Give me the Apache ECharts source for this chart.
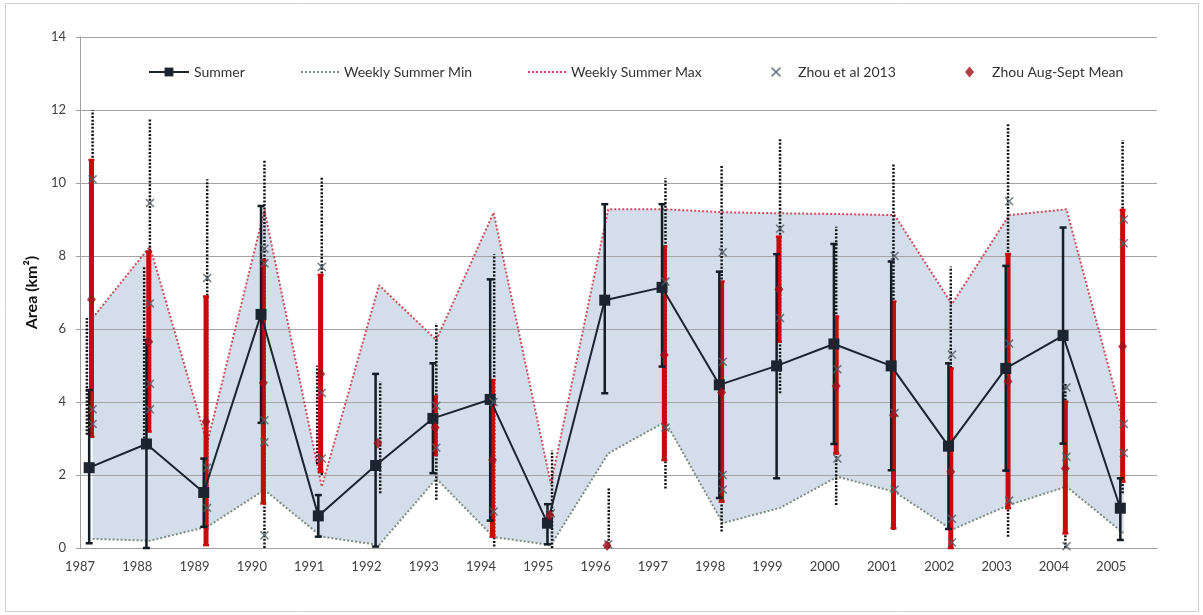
<!DOCTYPE html>
<html><head><meta charset="utf-8">
<script src="https://cdn.jsdelivr.net/npm/echarts@6/dist/echarts.min.js"></script>
<style>html,body{margin:0;padding:0;background:#fff}#c{width:1203px;height:615px}</style>
</head><body><div id="c"></div>
<script>
// ---- data ----
const years = [1987,1988,1989,1990,1991,1992,1993,1994,1995,1996,1997,1998,1999,2000,2001,2002,2003,2004,2005];
const summer     = [2.20,2.85,1.52,6.40,0.88,2.26,3.55,4.07,0.68,6.79,7.14,4.47,4.99,5.59,4.99,2.79,4.92,5.82,1.09];
const summerLow  = [0.13,0.00,0.58,3.43,0.31,0.04,2.05,0.75,0.10,4.24,4.97,1.37,1.91,2.85,2.13,0.52,2.12,2.86,0.22];
const summerHigh = [4.33,5.70,2.45,9.37,1.45,4.77,5.06,7.36,1.20,9.42,9.42,7.57,8.05,8.33,7.85,5.06,7.73,8.78,1.91];
const weeklyMin  = [0.25,0.20,0.58,1.59,0.31,0.08,1.90,0.30,0.08,2.59,3.46,0.68,1.10,1.95,1.54,0.50,1.18,1.68,0.40];
const weeklyMax  = [6.30,8.26,2.87,9.26,1.68,7.20,5.70,9.19,1.75,9.28,9.28,9.20,9.17,9.15,9.12,6.68,9.12,9.28,3.40];
const zhouMean   = [6.81,5.65,3.46,4.53,4.77,2.87,3.30,2.41,0.90,0.07,5.29,4.26,7.09,4.44,3.64,2.09,4.56,2.18,5.52];
const zhouLow    = [3.05,3.19,0.08,1.22,2.09,null,2.55,0.31,null,null,2.41,1.27,5.65,2.59,0.54,0.00,1.09,0.40,1.82];
const zhouHigh   = [10.63,8.12,6.89,7.89,7.48,null,4.15,4.60,null,null,8.26,7.30,8.53,6.34,6.75,4.92,8.05,4.01,9.26];
// Zhou et al 2013 individual estimates
const zhou2013Year  = [1987,1987,1987,1988,1988,1988,1988,1989,1989,1989,1990,1990,1990,1990,1990,1991,1991,1991,1993,1993,1994,1994,1995,1996,1997,1997,1998,1998,1998,1998,1999,1999,2000,2000,2001,2001,2001,2002,2002,2002,2003,2003,2003,2004,2004,2004,2005,2005,2005,2005];
const zhou2013Value = [10.1,3.8,3.4,9.45,6.7,4.5,3.8,7.4,2.2,1.1,8.2,7.8,3.5,2.9,0.35,7.7,4.25,2.45,2.75,3.9,4.0,1.0,0.95,0.1,7.3,3.3,8.1,5.1,2.0,1.6,8.75,6.3,4.9,2.45,8.0,3.7,1.6,5.3,0.8,0.15,9.5,5.6,1.3,4.4,2.5,0.05,9.0,8.35,3.4,2.6];
// Zhou et al 2013 ranges (dotted bars)
const zhouRangeYear = [1987,1987,1988,1988,1989,1990,1991,1991,1992,1993,1994,1995,1996,1997,1998,1999,2000,2001,2002,2003,2004,2005];
const zhouRangeLow  = [3.1,3.1,3.3,3.0,0.5,0.0,2.0,2.3,1.5,1.32,0.04,0.0,0.0,1.63,0.45,4.24,1.18,0.49,0.0,0.31,0.0,1.5];
const zhouRangeHigh = [12.0,6.3,11.75,7.7,10.1,10.63,10.15,5.0,4.56,6.16,8.05,2.68,1.63,10.13,10.49,11.22,8.8,10.54,7.71,11.63,4.5,11.18];
const zhouRangeShift = [0.22,0.12,0.22,0.12,0.22,0.22,0.22,0.14,0.24,0.22,0.23,0.24,0.23,0.22,0.2,0.22,0.2,0.2,0.2,0.2,0.2,0.2];

// time within year for each record
const T_SUMMER = 0.16, T_WEEKLY = 0.22, T_ZHOU = 0.2, T_Z13 = 0.22;

const FONT = 'Lato, "Open Sans", sans-serif';
const XMARK = 'path://M0,1.2 L1.2,0 L5,3.8 L8.8,0 L10,1.2 L6.2,5 L10,8.8 L8.8,10 L5,6.2 L1.2,10 L0,8.8 L3.8,5 Z';

function errorBars(data, color, width, dash, capW, z) {
  return {
    type: 'custom', z: z, silent: true, data: data,
    encode: { x: 0, y: [1, 2] },
    renderItem: function (params, api) {
      const x = api.value(0), lo = api.value(1), hi = api.value(2);
      if (isNaN(lo) || isNaN(hi)) return;
      const p1 = api.coord([x, lo]), p2 = api.coord([x, hi]);
      const ch = [{ type: 'line', shape: { x1: p1[0], y1: p1[1], x2: p2[0], y2: p2[1] },
        style: { stroke: color, lineWidth: width, lineDash: dash || null } }];
      if (capW) {
        ch.push({ type: 'line', shape: { x1: p1[0] - capW / 2, y1: p1[1], x2: p1[0] + capW / 2, y2: p1[1] }, style: { stroke: color, lineWidth: 2.5 } });
        ch.push({ type: 'line', shape: { x1: p2[0] - capW / 2, y1: p2[1], x2: p2[0] + capW / 2, y2: p2[1] }, style: { stroke: color, lineWidth: 2.5 } });
      }
      return { type: 'group', children: ch };
    }
  };
}

const chart = echarts.init(document.getElementById('c'), null, { renderer: 'canvas' });
const legendBase = { orient: 'horizontal', top: 65, padding: 0, itemHeight: 11, textStyle: { fontFamily: FONT, fontSize: 14, color: '#333' }, selectedMode: false };

chart.setOption({
  animation: false,
  backgroundColor: '#fff',
  graphic: [{ type: 'rect', shape: { x: 5.5, y: 3.5, width: 1193, height: 608 }, style: { fill: null, stroke: '#d0d0d0', lineWidth: 1 }, z: -10 }],
  grid: { left: 80, right: 46, top: 37, bottom: 67 },
  legend: [
    Object.assign({}, legendBase, { data: ['Summer'], left: 148, itemWidth: 40 }),
    Object.assign({}, legendBase, { data: ['Weekly Summer Min'], left: 300, itemWidth: 38, itemStyle: { opacity: 0 } }),
    Object.assign({}, legendBase, { data: ['Weekly Summer Max'], left: 527, itemWidth: 38, itemStyle: { opacity: 0 } }),
    Object.assign({}, legendBase, { data: [{ name: 'Zhou et al 2013', icon: XMARK }], left: 771, itemWidth: 10, itemHeight: 10,
      textStyle: { fontFamily: FONT, fontSize: 14, color: '#333', padding: [0, 0, 0, 12] } }),
    Object.assign({}, legendBase, { data: ['Zhou Aug-Sept Mean'], left: 965, itemWidth: 9, itemHeight: 11,
      textStyle: { fontFamily: FONT, fontSize: 14, color: '#333', padding: [0, 0, 0, 13] } })
  ],
  xAxis: {
    type: 'value', min: 1987, max: 2005.8, interval: 1, z: 1,
    axisLine: { show: true, onZero: false, lineStyle: { color: '#a0a0a0', width: 1 } },
    axisTick: { show: false },
    splitLine: { show: false },
    axisLabel: { margin: 12, fontFamily: FONT, fontSize: 13, color: '#404040', showMaxLabel: false,
      formatter: v => (Number.isInteger(v) ? String(v) : '') }
  },
  yAxis: {
    type: 'value', min: 0, max: 14, interval: 2, z: 1,
    name: 'Area (km²)', nameLocation: 'middle', nameGap: 33, nameRotate: 90,
    nameTextStyle: { fontFamily: FONT, fontSize: 16, fontWeight: 'bold', color: '#111' },
    axisLine: { show: true, lineStyle: { color: '#a0a0a0', width: 1 } },
    axisTick: { show: true, length: 4, lineStyle: { color: '#a0a0a0' } },
    splitLine: { show: true, lineStyle: { color: '#a3a3a3', width: 1.2 } },
    axisLabel: { margin: 14, fontFamily: FONT, fontSize: 13, color: '#404040' }
  },
  series: [
    { // range fill between weekly min and max
      type: 'custom', z: 0, silent: true,
      data: years.map((y, i) => [y + T_WEEKLY, weeklyMin[i], weeklyMax[i]]),
      encode: { x: 0, y: [1, 2] },
      renderItem: function (params, api) {
        if (params.dataIndex !== 0) return;
        const pts = [];
        for (let i = 0; i < years.length; i++) pts.push(api.coord([years[i] + T_WEEKLY, weeklyMax[i]]));
        for (let i = years.length - 1; i >= 0; i--) pts.push(api.coord([years[i] + T_WEEKLY, weeklyMin[i]]));
        return { type: 'polygon', shape: { points: pts }, style: { fill: '#d4deea' } };
      }
    },
    { name: 'Weekly Summer Min', type: 'line', z: 3, symbol: 'none',
      data: years.map((y, i) => [y + T_WEEKLY, weeklyMin[i]]),
      lineStyle: { color: '#7d8c80', width: 2, type: [2, 2] }, itemStyle: { color: '#7d8c80' } },
    { name: 'Weekly Summer Max', type: 'line', z: 3, symbol: 'none',
      data: years.map((y, i) => [y + T_WEEKLY, weeklyMax[i]]),
      lineStyle: { color: '#cc4f5c', width: 2, type: [2, 2] }, itemStyle: { color: '#cc4f5c' } },
    errorBars(zhouRangeYear.map((y, i) => [y + zhouRangeShift[i], zhouRangeLow[i], zhouRangeHigh[i]]), '#111', 2.5, [2, 1.6], 0, 4),
    errorBars(years.map((y, i) => [y + T_ZHOU, zhouLow[i] == null ? NaN : zhouLow[i], zhouHigh[i] == null ? NaN : zhouHigh[i]]), '#c80a0a', 5, null, 6, 5),
    errorBars(years.map((y, i) => [y + T_SUMMER, summerLow[i], summerHigh[i]]), '#141c26', 2.5, null, 7, 6),
    { name: 'Summer', type: 'line', z: 7,
      data: years.map((y, i) => [y + T_SUMMER, summer[i]]),
      symbol: 'rect', symbolSize: 11,
      lineStyle: { color: '#1c2430', width: 2 }, itemStyle: { color: '#1c2430' } },
    { name: 'Zhou et al 2013', type: 'scatter', z: 8,
      data: zhou2013Year.map((y, i) => [y + T_Z13, zhou2013Value[i]]),
      symbol: XMARK, symbolSize: 9, itemStyle: { color: '#525c66' } },
    { name: 'Zhou Aug-Sept Mean', type: 'scatter', z: 9,
      data: years.map((y, i) => [y + T_ZHOU, zhouMean[i]]),
      symbol: 'diamond', symbolSize: [9, 11], itemStyle: { color: '#a3111a' } }
  ]
});
</script></body></html>
